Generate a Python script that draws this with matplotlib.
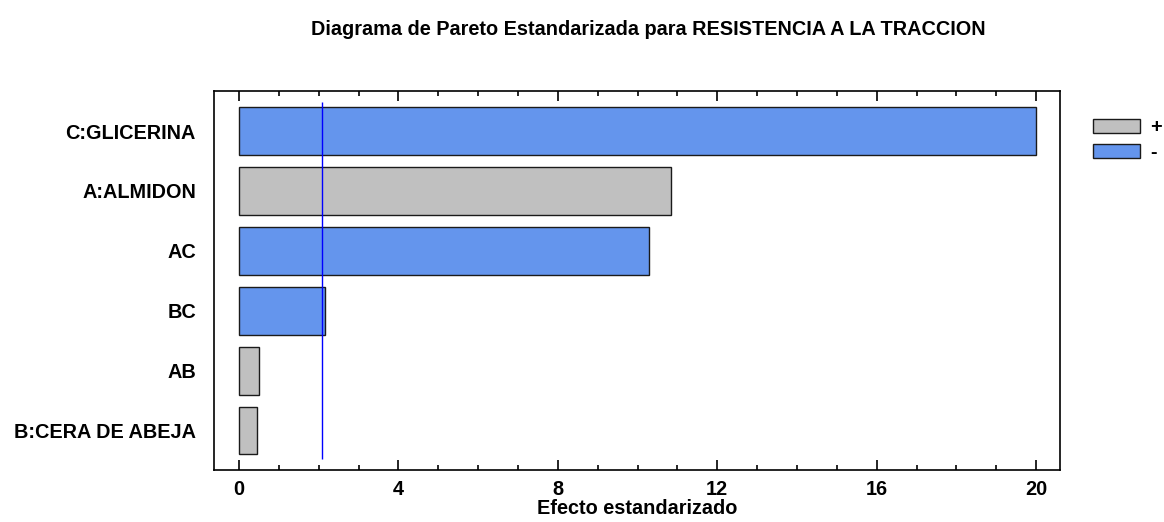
import matplotlib.pyplot as plt
from matplotlib.patches import Patch
from matplotlib.ticker import MultipleLocator

plt.rcParams["font.family"] = ["Liberation Sans", "DejaVu Sans"]

factors = ["C:GLICERINA", "A:ALMIDON", "AC", "BC", "AB", "B:CERA DE ABEJA"]
effects = [20.0, 10.84, 10.29, 2.16, 0.50, 0.46]
signs = ["-", "+", "-", "-", "+", "+"]
critical = 2.08

colors = {"+": "#c0c0c0", "-": "#6495ed"}
fs = 14.3

fig = plt.figure(figsize=(11.64, 5.22), dpi=100)
ax = fig.add_axes([0.1838, 0.0996, 0.7269, 0.7261])

pos = list(range(len(factors)))
ax.barh(pos, effects, height=0.8, color=[colors[s] for s in signs],
        edgecolor="#1a1a1a", linewidth=1.0)
ax.vlines(critical, -0.48, 5.47, color="#0000ff", linewidth=1.0)

ax.set_ylim(5.66, -0.67)
ax.set_xlim(-0.63, 20.6)
ax.set_yticks(pos)
ax.set_yticklabels(factors, fontsize=fs, fontweight="bold")
ax.tick_params(axis="y", length=0, pad=13)

ax.xaxis.set_major_locator(MultipleLocator(4))
ax.xaxis.set_minor_locator(MultipleLocator(1))
ax.tick_params(axis="x", which="both", direction="in", top=True, width=1.2,
               labelsize=fs, pad=7)
ax.tick_params(axis="x", which="major", length=7)
ax.tick_params(axis="x", which="minor", length=3.5)
for lab in ax.get_xticklabels():
    lab.set_fontweight("bold")
for sp in ax.spines.values():
    sp.set_linewidth(1.2)

ax.set_xlabel("Efecto estandarizado", fontsize=fs, fontweight="bold", labelpad=0.5)
fig.suptitle("Diagrama de Pareto Estandarizada para RESISTENCIA A LA TRACCION",
             fontsize=fs, fontweight="bold", x=0.557, y=0.962)

handles = [Patch(facecolor=colors["+"], edgecolor="#1a1a1a", label="+"),
           Patch(facecolor=colors["-"], edgecolor="#1a1a1a", label="-")]
leg = fig.legend(handles=handles, loc="upper left", bbox_to_anchor=(0.924, 0.808),
                 frameon=False, handlelength=2.37, handleheight=0.7,
                 handletextpad=0.5, labelspacing=0.3,
                 prop={"size": fs, "weight": "bold"})

fig.savefig("out.png", dpi=100)
